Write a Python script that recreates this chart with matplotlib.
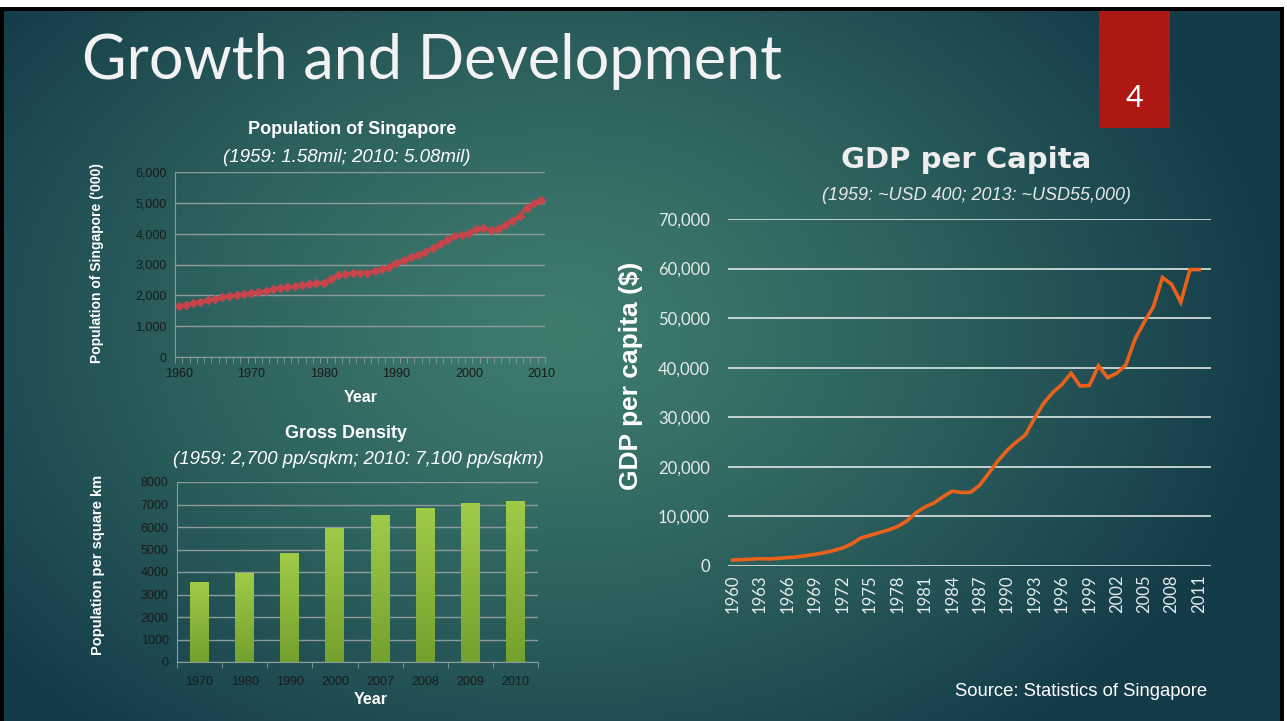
import numpy as np
import matplotlib
matplotlib.use("Agg")
import matplotlib.pyplot as plt
from matplotlib.patches import Rectangle
from matplotlib.colors import LinearSegmentedColormap
from matplotlib.ticker import FuncFormatter

# ---------------- data ----------------
pop_years = list(range(1960, 2011))
pop_values = [1646, 1702, 1750, 1795, 1841, 1887, 1934, 1978, 2012, 2043,
              2075, 2113, 2152, 2193, 2230, 2263, 2293, 2325, 2354, 2384,
              2414, 2532, 2647, 2681, 2732, 2736, 2733, 2775, 2847, 2930,
              3047, 3135, 3230, 3313, 3419, 3524, 3670, 3796, 3927, 3950,
              4028, 4138, 4176, 4115, 4167, 4266, 4401, 4589, 4839, 4988,
              5077]

dens_labels = ["1970", "1980", "1990", "2000", "2007", "2008", "2009", "2010"]
dens_values = [3550, 3950, 4830, 5960, 6520, 6830, 7050, 7140]

gdp_years = list(range(1960, 2012))
gdp_values = [1200, 1280, 1380, 1480, 1420, 1540, 1680, 1820, 2080, 2350,
              2680, 3100, 3620, 4430, 5640, 6170, 6710, 7250, 7920, 9000,
              10670, 11880, 12700, 13960, 15100, 14830, 14860, 16280, 18700, 21200,
              23300, 25000, 26400, 29800, 32800, 35000, 36600, 38900, 36300, 36400,
              40400, 38000, 38900, 40600, 45800, 49200, 52300, 58200, 56800, 53200,
              59800, 59800]
gdp_tick_years = list(range(1960, 2012, 3))

W, H = 1287, 721
fig = plt.figure(figsize=(W / 100, H / 100), dpi=100)

def fx(x):
    return x / W

def fy(y):
    return 1 - y / H

# ---------------- background ----------------
bg = fig.add_axes([0, 0, 1, 1], zorder=-10)
bg.set_xlim(0, W)
bg.set_ylim(H, 0)
bg.axis("off")
yy, xx = np.mgrid[0:H, 0:W]
d = np.sqrt(((xx - 560) / 720.0) ** 2 + ((yy - 330) / 520.0) ** 2)
t = np.clip(d, 0, 1) ** 1.3
c_in = np.array([0x3e, 0x7b, 0x6d]) / 255.0
c_out = np.array([0x14, 0x3b, 0x48]) / 255.0
img = c_in[None, None, :] * (1 - t[..., None]) + c_out[None, None, :] * t[..., None]
bg.imshow(img, extent=[0, W, H, 0], aspect="auto", interpolation="bilinear")
# borders
bg.add_patch(Rectangle((0, 7), W, 4, color="black", lw=0))
bg.add_patch(Rectangle((0, 0), 4, H, color="black", lw=0))
bg.add_patch(Rectangle((1280, 7), 4, H, color="black", lw=0))
bg.add_patch(Rectangle((1284, 0), 3, H, color="white", lw=0))
bg.add_patch(Rectangle((0, 0), W, 7, color="white", lw=0))
# red page box
bg.add_patch(Rectangle((1099, 11), 71, 117, color="#ad1714", lw=0))
bg.text(1134, 107, "4", color="white", fontsize=22, family="Lato",
        ha="center", va="baseline")

# slide title
fig.text(fx(82), fy(79), "Growth and Development", color="#f2f2f2",
         fontsize=44, family="Lato", fontweight="normal", ha="left", va="baseline")

# ---------------- population chart ----------------
grid_col = "#8d9c9a"
tick_col = "#1a1a1a"
ax1 = fig.add_axes([fx(175), fy(357), fx(545 - 175), (357 - 172) / H])
ax1.patch.set_alpha(0)
ax1.plot(pop_years, pop_values, color="#c8444b", lw=2.2, marker="D", ms=4.5,
         mec="#c8444b", mfc="#c8444b")
ax1.set_xlim(1959.5, 2010.5)
ax1.set_ylim(0, 6000)
ax1.set_yticks(range(0, 6001, 1000))
ax1.yaxis.set_major_formatter(FuncFormatter(lambda v, p: f"{int(v):,}"))
ax1.set_xticks(range(1960, 2011, 10))
ax1.set_xticks(np.arange(1959.5, 2011, 1), minor=True)
ax1.grid(axis="y", color=grid_col, lw=1)
ax1.set_axisbelow(True)
for s in ["top", "right"]:
    ax1.spines[s].set_visible(False)
for s in ["left", "bottom"]:
    ax1.spines[s].set_color(grid_col)
ax1.tick_params(axis="y", length=0, labelsize=9, labelcolor=tick_col, pad=6,
                labelfontfamily="Liberation Sans")
ax1.tick_params(axis="x", which="major", length=0, labelsize=9, labelcolor=tick_col,
                pad=8, labelfontfamily="Liberation Sans")
ax1.tick_params(axis="x", which="minor", length=4, color=grid_col, direction="out")
fig.text(fx(352), fy(130), "Population of Singapore", color="white", fontsize=13,
         fontweight="bold", family="Liberation Sans", ha="center", va="center")
fig.text(fx(347), fy(157), "(1959: 1.58mil; 2010: 5.08mil)", color="white", fontsize=13.5,
         style="italic", family="Liberation Sans", ha="center", va="center")
fig.text(fx(97), fy(263), "Population of Singapore ('000)", color="white", fontsize=10,
         fontweight="bold", family="Liberation Sans", ha="center", va="center",
         rotation=90)
fig.text(fx(361), fy(398), "Year", color="white", fontsize=11.5, fontweight="bold",
         family="Liberation Sans", ha="center", va="center")

# ---------------- density chart ----------------
ax2 = fig.add_axes([fx(177), fy(662), fx(538 - 177), (662 - 482) / H])
ax2.patch.set_alpha(0)
xpos = np.arange(len(dens_labels))
bars = ax2.bar(xpos, dens_values, width=0.42, color="none", lw=0, zorder=3)
green = LinearSegmentedColormap.from_list("g", ["#74a02e", "#a0cb48"])
grad = np.linspace(0, 1, 256).reshape(-1, 1)
for b in bars:
    x0, y0 = b.get_x(), b.get_y()
    im = ax2.imshow(grad, extent=[x0, x0 + b.get_width(), y0, y0 + b.get_height()],
                    origin="lower", cmap=green, aspect="auto", zorder=3)
    im.set_clip_path(b)
ax2.set_xlim(-0.5, len(dens_labels) - 0.5)
ax2.set_ylim(0, 8000)
ax2.set_yticks(range(0, 8001, 1000))
ax2.set_xticks(xpos)
ax2.set_xticklabels(dens_labels)
ax2.set_xticks(np.arange(-0.5, len(dens_labels), 1), minor=True)
ax2.grid(axis="y", color=grid_col, lw=1)
ax2.set_axisbelow(True)
for s in ["top", "right"]:
    ax2.spines[s].set_visible(False)
for s in ["left", "bottom"]:
    ax2.spines[s].set_color(grid_col)
ax2.tick_params(axis="y", length=0, labelsize=9, labelcolor=tick_col, pad=6,
                labelfontfamily="Liberation Sans")
ax2.tick_params(axis="x", which="major", length=0, labelsize=9, labelcolor=tick_col,
                pad=10, labelfontfamily="Liberation Sans")
ax2.tick_params(axis="x", which="minor", length=4, color=grid_col, direction="out")
fig.text(fx(346), fy(434), "Gross Density", color="white", fontsize=13,
         fontweight="bold", family="Liberation Sans", ha="center", va="center")
fig.text(fx(358), fy(459), "(1959: 2,700 pp/sqkm; 2010: 7,100 pp/sqkm)", color="white",
         fontsize=13.4, style="italic", family="Liberation Sans", ha="center", va="center")
fig.text(fx(98), fy(565), "Population per square km", color="white", fontsize=10.5,
         fontweight="bold", family="Liberation Sans", ha="center", va="center",
         rotation=90)
fig.text(fx(371), fy(700), "Year", color="white", fontsize=11.5, fontweight="bold",
         family="Liberation Sans", ha="center", va="center")

# ---------------- GDP chart ----------------
ax3 = fig.add_axes([fx(728), fy(566), fx(1211 - 728), (566 - 219) / H])
ax3.patch.set_alpha(0)
ax3.plot(gdp_years, gdp_values, color="#ea6119", lw=2.6, solid_joinstyle="miter")
ax3.set_xlim(1959.5, 2012.3)
ax3.set_ylim(0, 70000)
ax3.set_yticks(range(0, 70001, 10000))
ax3.yaxis.set_major_formatter(FuncFormatter(lambda v, p: f"{int(v):,}"))
ax3.set_xticks(gdp_tick_years)
ax3.set_xticklabels([str(y) for y in gdp_tick_years], rotation=90)
ax3.grid(axis="y", color="#dfe6e4", lw=1.2)
ax3.set_axisbelow(True)
for s in ax3.spines.values():
    s.set_visible(False)
ax3.tick_params(axis="y", length=0, labelsize=12, labelcolor="#e6eceb", pad=13,
                labelfontfamily="Lato")
ax3.tick_params(axis="x", length=0, labelsize=12, labelcolor="#e6eceb", pad=6,
                labelfontfamily="Lato")
fig.text(fx(966), fy(160), "GDP per Capita", color="#eeeeee", fontsize=21,
         fontweight="bold", family="DejaVu Sans", ha="center", va="center")
fig.text(fx(977), fy(195), "(1959: ~USD 400; 2013: ~USD55,000)", color="#e8e8e8",
         fontsize=13, style="italic", family="Liberation Sans", ha="center", va="center")
fig.text(fx(631), fy(376), "GDP per capita ($)", color="white", fontsize=19,
         fontweight="bold", family="Liberation Sans", ha="center", va="center",
         rotation=90)
fig.text(fx(1207), fy(692), "Source: Statistics of Singapore", color="white",
         fontsize=13.3, family="Liberation Sans", ha="right", va="center")

fig.savefig("out.png", dpi=100)
